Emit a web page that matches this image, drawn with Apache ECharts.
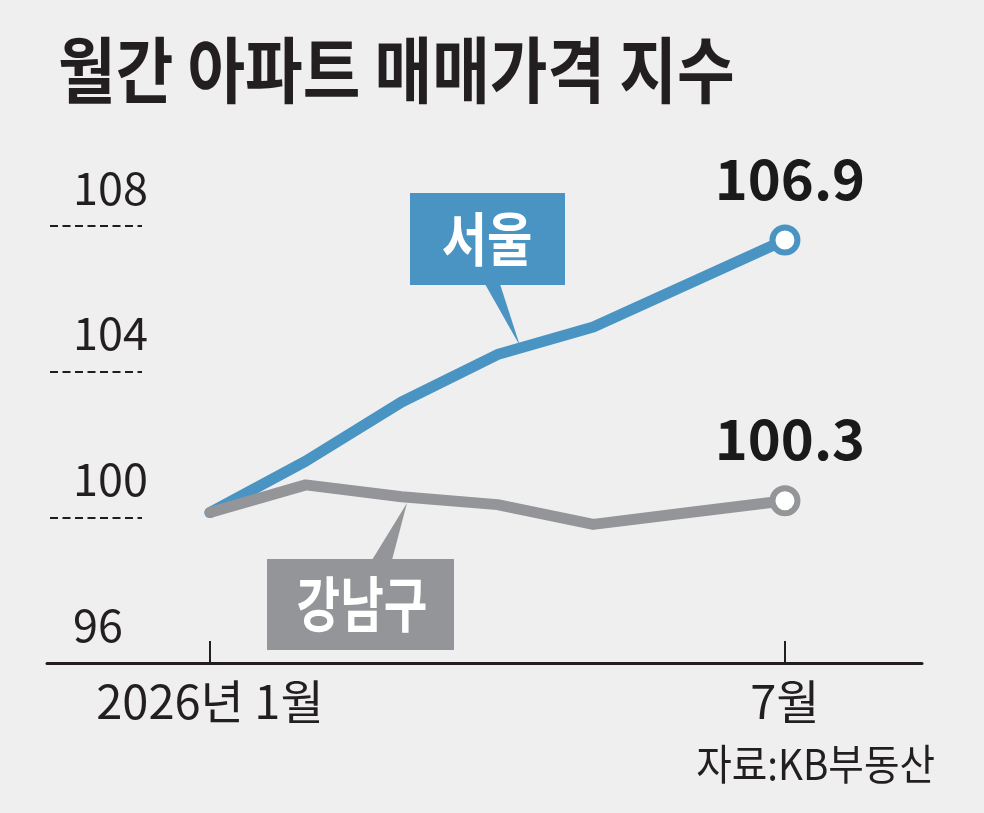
<!DOCTYPE html>
<html>
<head>
<meta charset="utf-8">
<title>월간 아파트 매매가격 지수</title>
<script src="https://cdn.jsdelivr.net/npm/echarts@6.0.0/dist/echarts.min.js"></script>
<style>
  html, body { margin: 0; padding: 0; background: #efefef; }
  #chart { width: 984px; height: 813px; }
</style>
</head>
<body>
<div id="chart"></div>
<script>
// 월 (2026년 1월 ~ 7월)
const months = [1, 2, 3, 4, 5, 6, 7];
// 매매가격 지수
const seoul = [100.0, 101.3, 102.8, 104.0, 104.7, 105.8, 106.9];
const gangnam = [100.0, 100.7, 100.4, 100.2, 99.7, 100.0, 100.3];
// x축 라벨
const tickMonths = [1, 7];
const tickLabels = ['2026년 1월', '7월'];
// y축 눈금
const yTicks = [96, 100, 104, 108];

const NUM_FONT = "'Liberation Sans Narrow', 'Noto Sans CJK KR', sans-serif";
const KR_FONT = "'Noto Sans CJK KR', sans-serif";
const BLUE = '#4a94c4';
const GRAY = '#939598';
const INK = '#231f20';

// 마지막 점에만 동그라미와 값 표시
function toPoints(values) {
  return values.map((v, i) => {
    const item = { value: [months[i], v] };
    if (i === values.length - 1) {
      item.symbolSize = 25;
      item.label = { show: true };
    }
    return item;
  });
}

function lineSeries(name, values, color) {
  return {
    type: 'line',
    name: name,
    xAxisIndex: 0,
    yAxisIndex: 0,
    data: toPoints(values),
    color: color,
    symbol: 'circle',
    symbolSize: 0,
    showAllSymbol: true,
    silent: true,
    lineStyle: { color: color, width: 11, cap: 'round', join: 'round' },
    itemStyle: { color: '#fff', borderColor: color, borderWidth: 6 },
    label: {
      show: false,
      position: 'top',
      distance: 18,
      offset: [5, 0],
      formatter: p => p.value[1].toFixed(1),
      fontFamily: NUM_FONT,
      fontWeight: 'bold',
      fontSize: 56,
      color: '#1a1a1a'
    },
    emphasis: { disabled: true }
  };
}

const chart = echarts.init(document.getElementById('chart'), null, { renderer: 'canvas' });

chart.setOption({
  animation: false,
  backgroundColor: '#efefef',
  grid: [
    { left: 47, right: 62, top: 196.6, bottom: 142.5 }, // 데이터
    { left: 47, right: 62, top: 226, bottom: 150 },     // x축
    { left: 50, width: 92, top: 226, bottom: 150 }      // y축 점선
  ],
  xAxis: [
    { gridIndex: 0, type: 'value', min: -0.7, max: 8.43, show: false },
    {
      gridIndex: 1, type: 'value', min: -0.7, max: 8.43,
      axisLine: { show: true, onZero: false, lineStyle: { color: INK, width: 3 } },
      axisTick: { show: true, inside: true, length: 22, customValues: tickMonths, lineStyle: { color: INK, width: 2 } },
      axisLabel: {
        customValues: tickMonths,
        formatter: v => tickLabels[tickMonths.indexOf(v)] || '',
        fontFamily: NUM_FONT,
        fontSize: 47,
        color: INK,
        margin: 15
      },
      splitLine: { show: false }
    },
    { gridIndex: 2, type: 'value', show: false }
  ],
  yAxis: [
    { gridIndex: 0, type: 'value', min: 96, max: 108, show: false },
    { gridIndex: 1, type: 'value', min: 0, max: 1, show: false },
    {
      gridIndex: 2, type: 'value', min: 96, max: 108, interval: 4,
      axisLine: { show: false },
      axisTick: { show: false },
      splitLine: { show: true, showMinLine: false, lineStyle: { color: '#1e1e1e', width: 2, type: [8, 4.5] } },
      axisLabel: {
        inside: true,
        margin: 23,
        align: 'left',
        verticalAlign: 'bottom',
        padding: [0, 0, 16, 0],
        formatter: v => (yTicks.indexOf(v) >= 0 ? String(v) : ''),
        fontFamily: NUM_FONT,
        fontSize: 45,
        color: INK
      }
    }
  ],
  graphic: [
    {
      type: 'text', x: 58, y: 70, scaleX: 0.87,
      style: { text: '월간 아파트 매매가격 지수', font: 'bold 72px ' + KR_FONT, fill: INK, textAlign: 'left', textVerticalAlign: 'middle' }
    },
    // 서울 말풍선
    { type: 'rect', shape: { x: 410, y: 193, width: 155, height: 92 }, style: { fill: BLUE } },
    { type: 'polygon', shape: { points: [[485, 284], [500, 284], [520, 346]] }, style: { fill: BLUE } },
    {
      type: 'text', x: 487, y: 239, scaleX: 0.85,
      style: { text: '서울', font: 'bold 58px ' + KR_FONT, fill: '#fff', textAlign: 'center', textVerticalAlign: 'middle' }
    },
    // 강남구 말풍선
    { type: 'rect', shape: { x: 267, y: 559, width: 187, height: 91 }, style: { fill: GRAY } },
    { type: 'polygon', shape: { points: [[372, 560], [392, 560], [407, 503]] }, style: { fill: GRAY } },
    {
      type: 'text', x: 362, y: 604, scaleX: 0.79,
      style: { text: '강남구', font: 'bold 60px ' + KR_FONT, fill: '#fff', textAlign: 'center', textVerticalAlign: 'middle' }
    },
    // 출처
    {
      type: 'text', x: 935, y: 764, scaleX: 0.92,
      style: { text: '자료:KB부동산', font: '42px ' + KR_FONT, fill: INK, textAlign: 'right', textVerticalAlign: 'middle' }
    }
  ],
  series: [
    lineSeries('서울', seoul, BLUE),
    lineSeries('강남구', gangnam, GRAY)
  ]
});
</script>
</body>
</html>
